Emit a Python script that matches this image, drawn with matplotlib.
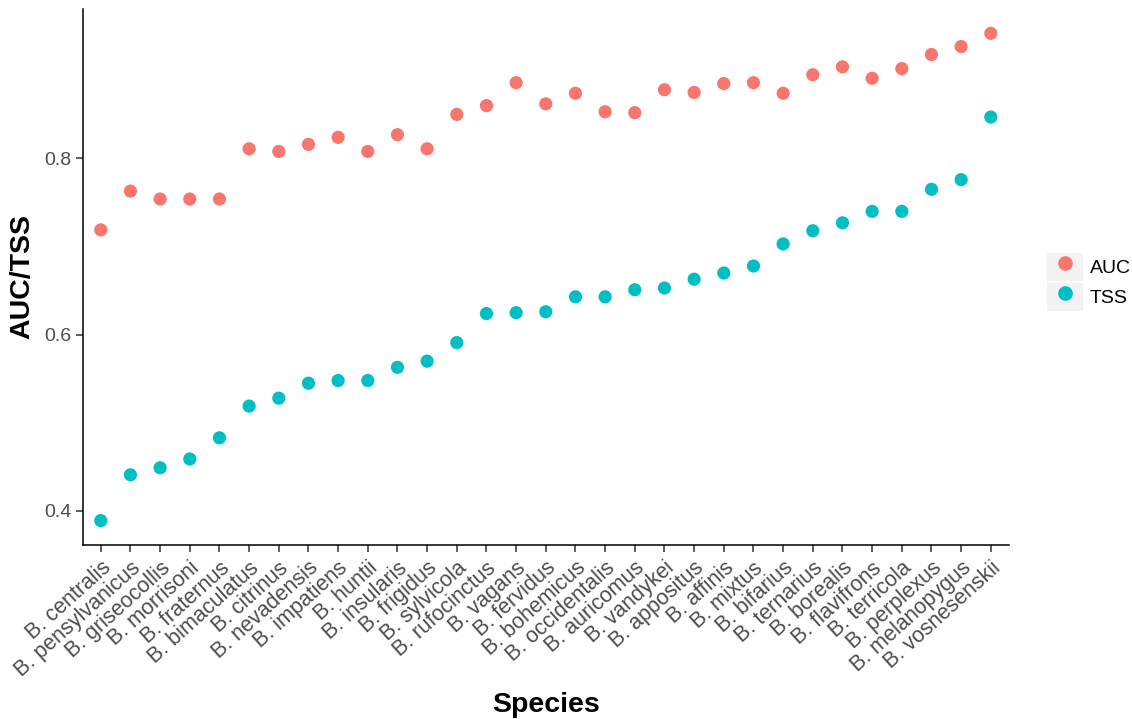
import matplotlib
matplotlib.use("Agg")
import matplotlib.pyplot as plt
from matplotlib.patches import Rectangle
from matplotlib.lines import Line2D
from matplotlib.legend_handler import HandlerTuple

plt.rcParams['font.family'] = ['Liberation Sans', 'DejaVu Sans']

# species ordered as in the figure
species = ['B. centralis', 'B. pensylvanicus', 'B. griseocollis', 'B. morrisoni',
           'B. fraternus', 'B. bimaculatus', 'B. citrinus', 'B. nevadensis',
           'B. impatiens', 'B. huntii', 'B. insularis', 'B. frigidus',
           'B. sylvicola', 'B. rufocinctus', 'B. vagans', 'B. fervidus',
           'B. bohemicus', 'B. occidentalis', 'B. auricomus', 'B. vandykei',
           'B. appositus', 'B. affinis', 'B. mixtus', 'B. bifarius',
           'B. ternarius', 'B. borealis', 'B. flavifrons', 'B. terricola',
           'B. perplexus', 'B. melanopygus', 'B. vosnesenskii']

auc = [0.719, 0.763, 0.754, 0.754, 0.754, 0.811, 0.808, 0.816, 0.824, 0.808,
       0.827, 0.811, 0.850, 0.860, 0.886, 0.862, 0.874, 0.853, 0.852, 0.878,
       0.875, 0.885, 0.886, 0.874, 0.895, 0.904, 0.891, 0.902, 0.918, 0.927,
       0.942]

tss = [0.389, 0.441, 0.449, 0.459, 0.483, 0.519, 0.528, 0.545, 0.548, 0.548,
       0.563, 0.570, 0.591, 0.624, 0.625, 0.626, 0.643, 0.643, 0.651, 0.653,
       0.663, 0.670, 0.678, 0.703, 0.718, 0.727, 0.740, 0.740, 0.765, 0.776,
       0.847]

c_auc = '#F8766D'
c_tss = '#00BFC4'

fig = plt.figure(figsize=(11.32, 7.19), dpi=100)
ax = fig.add_axes([0.0733, 0.242, 0.8177, 0.7455])

x = list(range(len(species)))
ax.scatter(x, auc, s=90, color=c_auc, edgecolors='none', zorder=3)
ax.scatter(x, tss, s=90, color=c_tss, edgecolors='none', zorder=3)

lo = min(tss)
hi = max(auc)
pad = (hi - lo) * 0.05
ax.set_ylim(lo - pad, hi + pad)
ax.set_xlim(-0.6, len(species) - 0.4)
ax.set_yticks([0.4, 0.6, 0.8])
ax.set_yticklabels(['0.4', '0.6', '0.8'])
ax.set_xticks(x)
ax.set_xticklabels(species, rotation=42, ha='right', rotation_mode='anchor')

for s in ['top', 'right']:
    ax.spines[s].set_visible(False)
for s in ['left', 'bottom']:
    ax.spines[s].set_color('black')
    ax.spines[s].set_linewidth(1.1)

ax.tick_params(axis='both', colors='#333333', labelcolor='#4d4d4d',
               labelsize=14, length=5, width=1.1)
ax.tick_params(axis='x', labelsize=15.5, pad=4)

ax.set_xlabel('Species', fontsize=20.5, fontweight='bold', labelpad=8)
ax.set_ylabel('AUC/TSS', fontsize=20.5, fontweight='bold', labelpad=6)

# legend keys with grey background like ggplot
bg = lambda: Rectangle((0, 0), 1, 1, facecolor='#f2f2f2', edgecolor='none')
h_auc = (bg(), Line2D([], [], marker='o', color=c_auc, linestyle='none', markersize=9.5))
h_tss = (bg(), Line2D([], [], marker='o', color=c_tss, linestyle='none', markersize=9.5))
fig.legend([h_auc, h_tss], ['AUC', 'TSS'],
           handler_map={tuple: HandlerTuple(ndivide=1)},
           loc='center left', bbox_to_anchor=(0.925, 0.608),
           frameon=False, fontsize=14, handlelength=1.85, handleheight=1.85,
           handletextpad=0.35, labelspacing=0.08, borderpad=0,
           borderaxespad=0)

fig.savefig('out.png', dpi=100)
